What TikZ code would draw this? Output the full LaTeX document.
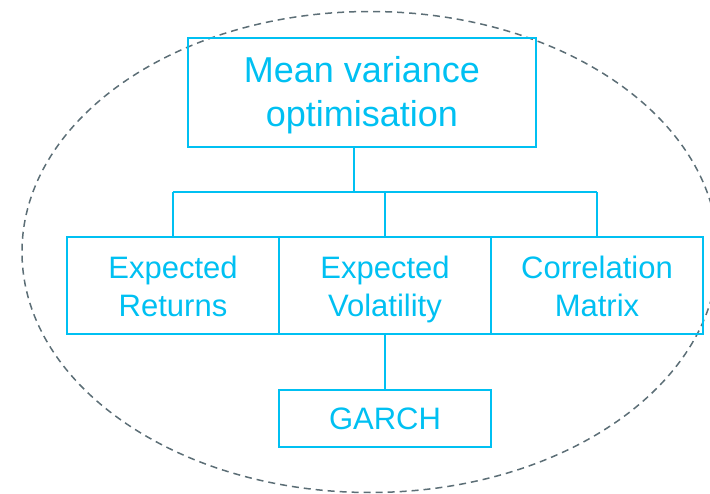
\documentclass[tikz,border=0pt]{standalone}
\usepackage{fontspec}
\setmainfont{Liberation Sans}
\definecolor{boxcyan}{RGB}{0,192,242}
\definecolor{ringgrey}{RGB}{92,110,118}
% invisible struts that fix each line's height and depth
\newcommand{\titlestrut}{\rule[-8.5pt]{0pt}{41.5pt}}
\newcommand{\itemstrut}{\rule[-6.8pt]{0pt}{37.1pt}}
\newcommand{\leafstrut}{\rule[-0.5pt]{0pt}{24pt}}
\tikzset{
  box/.style={draw=boxcyan, line width=2pt, text=boxcyan, inner sep=0pt, outer sep=0pt,
    align=center, font=\fontsize{31}{37.5}\selectfont},
  item/.style={box, minimum width=212pt, minimum height=97pt},
  link/.style={draw=boxcyan, line width=2pt},
  ring/.style={draw=ringgrey, line width=1.5pt, dash pattern=on 7pt off 5pt}
}
\begin{document}
\begin{tikzpicture}[x=1pt,y=-1pt]
  \useasboundingbox (0,0) rectangle (710,494);

  % dashed enclosing ellipse
  \draw[ring] (370,252) ellipse [x radius=348pt, y radius=240.5pt];

  % boxes
  \node[box, minimum width=348pt, minimum height=109pt,
        font=\fontsize{36}{43.5}\selectfont] (mvo) at (362,92.5)
        {\titlestrut Mean variance\\\titlestrut optimisation};
  \node[item] (ret) at (173,286) {\itemstrut Expected\\\itemstrut Returns};
  \node[item] (vol) at (385,286) {\itemstrut Expected\\\itemstrut Volatility};
  \node[item] (cor) at (597,286) {\itemstrut Correlation\\\itemstrut Matrix};
  \node[box, minimum width=212pt, minimum height=57pt] (garch) at (385,418.5) {\leafstrut GARCH};

  % tree connectors
  \coordinate (bus) at (354,192);
  \draw[link] (mvo.south -| bus) -- (bus);
  \draw[link] (ret.north |- bus) -- (cor.north |- bus);
  \draw[link] (ret.north) -- (ret.north |- bus);
  \draw[link] (vol.north) -- (vol.north |- bus);
  \draw[link] (cor.north) -- (cor.north |- bus);
  \draw[link] (vol.south) -- (garch.north);
\end{tikzpicture}
\end{document}
